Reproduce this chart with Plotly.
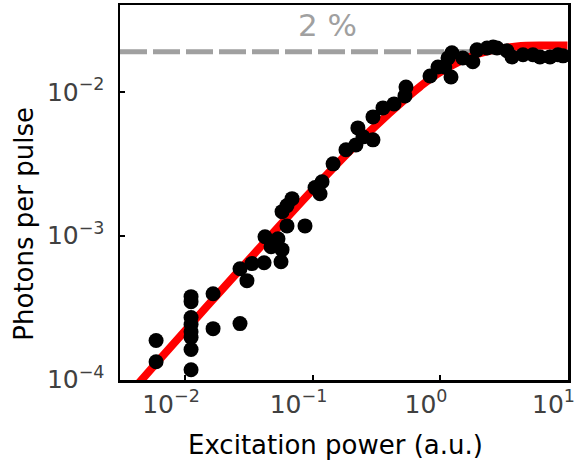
import plotly.graph_objects as go

# Measured data points (excitation power, photons per pulse)
power = [0.00593, 0.00593, 0.01115, 0.01115, 0.01115, 0.01115, 0.01115, 0.01115, 0.01115, 0.01115,
         0.0166, 0.0166, 0.0270, 0.0270, 0.0306, 0.0335, 0.0417, 0.0566, 0.0424, 0.0473,
         0.0536, 0.0577, 0.0631, 0.0873, 0.0577, 0.0631, 0.0691, 0.1047, 0.1146, 0.1188,
         0.145, 0.183, 0.219, 0.249, 0.227, 0.298, 0.298, 0.357, 0.436, 0.531,
         0.541, 0.835, 0.964, 1.22, 1.156, 1.24, 1.09, 1.51, 1.81, 1.95,
         2.34, 2.80, 3.35, 3.67, 4.48, 5.36, 6.08, 7.29, 8.42, 9.22, 2.61]
photons = [1.87e-4, 1.33e-4, 3.77e-4, 3.48e-4, 2.70e-4, 2.41e-4, 2.15e-4, 1.96e-4, 1.62e-4, 1.17e-4,
           3.95e-4, 2.26e-4, 2.45e-4, 5.90e-4, 4.87e-4, 6.40e-4, 6.49e-4, 6.59e-4, 9.84e-4, 8.39e-4,
           9.53e-4, 8.00e-4, 1.17e-3, 1.17e-3, 1.47e-3, 1.62e-3, 1.81e-3, 2.16e-3, 1.96e-3, 2.37e-3,
           3.16e-3, 3.96e-3, 4.28e-3, 4.87e-3, 5.62e-3, 4.64e-3, 6.70e-3, 7.74e-3, 8.25e-3, 9.38e-3,
           1.08e-2, 1.29e-2, 1.49e-2, 1.27e-2, 1.72e-2, 1.87e-2, 1.49e-2, 1.72e-2, 1.62e-2, 1.96e-2,
           2.02e-2, 2.02e-2, 1.93e-2, 1.75e-2, 1.81e-2, 1.81e-2, 1.75e-2, 1.75e-2, 1.81e-2, 1.78e-2, 2.05e-2]

# Saturation fit curve
fit_power = [0.004, 0.006, 0.01, 0.02, 0.04, 0.07, 0.1, 0.2, 0.4, 0.7, 1.0, 2.0, 4.0, 7.0, 10.0]
fit_photons = [8.7e-5, 1.31e-4, 2.18e-4, 4.33e-4, 8.57e-4, 1.48e-3, 2.08e-3, 3.95e-3, 7.1e-3,
               1.09e-2, 1.37e-2, 1.84e-2, 2.07e-2, 2.099e-2, 2.10e-2]

# 2 % reference level
ref_power = [10 ** -2.51, 10 ** 1.004]
ref_level = [0.019, 0.019]
ref_label = "2 %"

x_title = "Excitation power (a.u.)"
y_title = "Photons per pulse"

x_tick_vals = [0.01, 0.1, 1, 10]
x_tick_text = ["10<sup>−2</sup>", "10<sup>−1</sup>", "10<sup>0</sup>", "10<sup>1</sup>"]
y_tick_vals = [1e-4, 1e-3, 1e-2]
y_tick_text = ["10<sup>−4</sup>", "10<sup>−3</sup>", "10<sup>−2</sup>"]

FONT = "DejaVu Sans"

fig = go.Figure()
fig.add_trace(go.Scatter(x=ref_power, y=ref_level, mode="lines",
                         line=dict(color="#a0a0a0", width=5, dash="27px,6px"),
                         hoverinfo="skip", showlegend=False))
fig.add_trace(go.Scatter(x=fit_power, y=fit_photons, mode="lines",
                         line=dict(color="#ff0000", width=8, shape="spline"),
                         showlegend=False))
fig.add_trace(go.Scatter(x=power, y=photons, mode="markers",
                         marker=dict(color="black", size=15, line=dict(width=0)),
                         cliponaxis=False, showlegend=False))

fig.add_annotation(x=0.464, y=0.947, xref="paper", yref="paper", text=ref_label,
                   xanchor="center", yanchor="middle",
                   showarrow=False, font=dict(family=FONT, size=31, color="#a0a0a0"))

# Axis titles as annotations for exact placement
fig.add_annotation(x=0.482, y=-0.172, xref="paper", yref="paper", text=x_title,
                   xanchor="center", yanchor="middle", showarrow=False,
                   font=dict(family=FONT, size=26, color="black"))
fig.add_annotation(x=-0.215, y=0.416, xref="paper", yref="paper", text=y_title,
                   textangle=-90, xanchor="center", yanchor="middle", showarrow=False,
                   font=dict(family=FONT, size=26, color="black"))

axis_common = dict(
    type="log", showline=True, linecolor="black", linewidth=2.5, mirror=True,
    ticks="inside", ticklen=5, tickwidth=2, tickcolor="black",
    showgrid=False, zeroline=False,
    tickfont=dict(family=FONT, size=25, color="#404040"),
)

fig.update_xaxes(**axis_common, range=[-2.51, 1.004], tickvals=x_tick_vals, ticktext=x_tick_text,
                 ticklabelshift=-14)
fig.update_yaxes(**axis_common, range=[-4.003, -1.396], tickvals=y_tick_vals, ticktext=y_tick_text,
                 ticklabelstandoff=8)

fig.update_layout(
    width=582, height=464,
    margin=dict(l=120, r=14, t=5, b=84, autoexpand=False),
    paper_bgcolor="white", plot_bgcolor="white",
    font=dict(family=FONT),
    hovermode=False,
)

fig.write_html("out.html", config={"displayModeBar": False, "staticPlot": True},
               post_script="document.body.style.margin='0';document.body.style.overflow='hidden';")
